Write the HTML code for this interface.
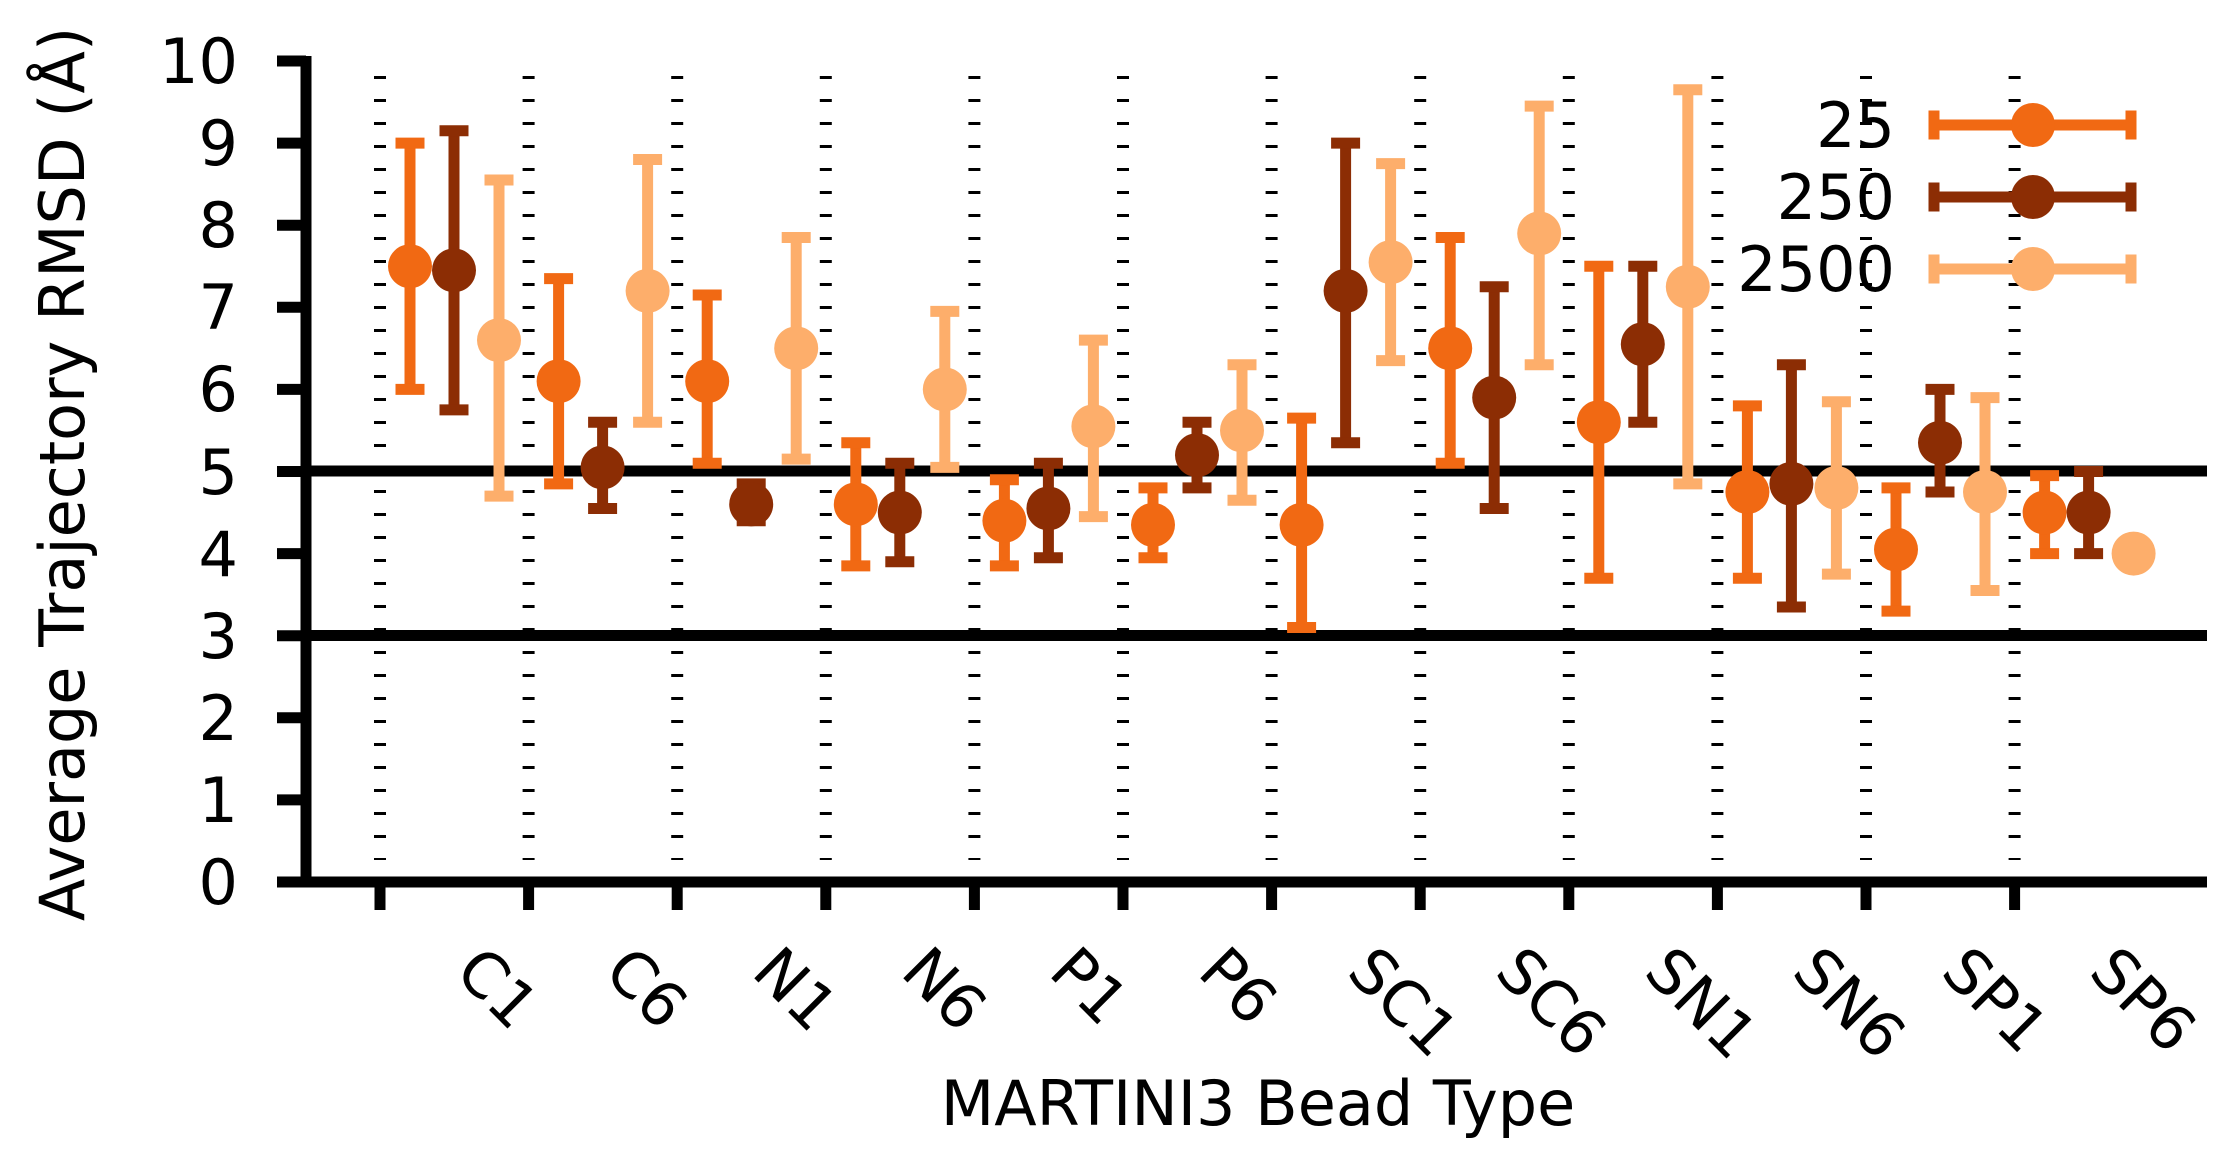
<!DOCTYPE html>
<html><head><meta charset="utf-8"><style>
html,body{margin:0;padding:0;background:#fff;}
svg{display:block;}
text{font-family:"DejaVu Sans","Liberation Sans",sans-serif;fill:#000;}
</style></head><body>
<svg id="s" width="2240" height="1167" viewBox="0 0 2240 1167" xmlns="http://www.w3.org/2000/svg">
<g id="grid"></g>
<g stroke="#000" stroke-width="11">
<line x1="306" y1="471" x2="2207" y2="471"/>
<line x1="306" y1="635.5" x2="2207" y2="635.5"/>
<line x1="306" y1="56" x2="306" y2="887"/>
<line x1="277" y1="882" x2="2207" y2="882"/>
</g>
<g id="ticks" stroke="#000" stroke-width="11"></g>
<g id="data"></g>
<g font-size="62" text-anchor="end">
<text x="238" y="904">0</text>
<text x="238" y="822">1</text>
<text x="238" y="740">2</text>
<text x="238" y="658">3</text>
<text x="238" y="576">4</text>
<text x="238" y="494">5</text>
<text x="238" y="411">6</text>
<text x="238" y="329">7</text>
<text x="238" y="247">8</text>
<text x="238" y="165">9</text>
<text x="238" y="83">10</text>
</g>
<g font-size="62">
<text transform="translate(453,974) rotate(45)">C1</text>
<text transform="translate(602,974) rotate(45)">C6</text>
<text transform="translate(750,974) rotate(45)">N1</text>
<text transform="translate(899,974) rotate(45)">N6</text>
<text transform="translate(1047,974) rotate(45)">P1</text>
<text transform="translate(1196,974) rotate(45)">P6</text>
<text transform="translate(1345,974) rotate(45)">SC1</text>
<text transform="translate(1493,974) rotate(45)">SC6</text>
<text transform="translate(1642,974) rotate(45)">SN1</text>
<text transform="translate(1790,974) rotate(45)">SN6</text>
<text transform="translate(1939,974) rotate(45)">SP1</text>
<text transform="translate(2087,974) rotate(45)">SP6</text>
</g>
<text x="1258" y="1125" font-size="62" text-anchor="middle">MARTINI3 Bead Type</text>
<text transform="translate(84,474) rotate(-90)" font-size="62" text-anchor="middle">Average Trajectory RMSD (Å)</text>
<g font-size="62" text-anchor="end">
<text x="1895" y="147">25</text>
<text x="1895" y="219">250</text>
<text x="1895" y="291">2500</text>
</g>
<g id="leg"></g>
</svg>
<script>
var NS="http://www.w3.org/2000/svg";
function el(p,t,a){var e=document.createElementNS(NS,t);for(var k in a)e.setAttribute(k,a[k]);p.appendChild(e);return e;}
var grid=document.getElementById('grid'),ticks=document.getElementById('ticks'),dg=document.getElementById('data'),lg=document.getElementById('leg');
for(var k=0;k<12;k++){var x=380+k*148.6;
el(grid,'line',{x1:x,y1:76,x2:x,y2:860,stroke:'#000','stroke-width':12,'stroke-dasharray':'3 20'});
el(ticks,'line',{x1:x,y1:882,x2:x,y2:910});}
for(var v=0;v<=10;v++){var y=882-82.1*v;el(ticks,'line',{x1:277,y1:y,x2:306,y2:y});}
var C=['#f16913','#8c2d04','#fdae6b'];
var D=[
[[7.5,6.0,9.0],[7.45,5.75,9.15],[6.6,4.7,8.55]],
[[6.1,4.85,7.35],[5.05,4.55,5.6],[7.2,5.6,8.8]],
[[6.1,5.1,7.15],[4.6,4.4,4.85],[6.5,5.15,7.85]],
[[4.6,3.85,5.35],[4.5,3.9,5.1],[6.0,5.05,6.95]],
[[4.4,3.85,4.9],[4.55,3.95,5.1],[5.55,4.45,6.6]],
[[4.35,3.95,4.8],[5.2,4.8,5.6],[5.5,4.65,6.3]],
[[4.35,3.1,5.65],[7.2,5.35,9.0],[7.55,6.35,8.75]],
[[6.5,5.1,7.85],[5.9,4.55,7.25],[7.9,6.3,9.45]],
[[5.6,3.7,7.5],[6.55,5.6,7.5],[7.25,4.85,9.65]],
[[4.75,3.7,5.8],[4.85,3.35,6.3],[4.8,3.75,5.85]],
[[4.05,3.3,4.8],[5.35,4.75,6.0],[4.75,3.55,5.9]],
[[4.5,4.0,4.95],[4.5,4.0,5.0],[4.0,3.95,4.05]]];
var off=[30,74,119];
function Y(v){return 882-82.1*v;}
for(var g=0;g<12;g++)for(var s=0;s<3;s++){var d=D[g][s],x=380+g*148.6+off[s],c=C[s];
el(dg,'line',{x1:x,y1:Y(d[1]),x2:x,y2:Y(d[2]),stroke:c,'stroke-width':11});
el(dg,'line',{x1:x-14.5,y1:Y(d[1]),x2:x+14.5,y2:Y(d[1]),stroke:c,'stroke-width':11});
el(dg,'line',{x1:x-14.5,y1:Y(d[2]),x2:x+14.5,y2:Y(d[2]),stroke:c,'stroke-width':11});
el(dg,'circle',{cx:x,cy:Y(d[0]),r:22,fill:c});}
var ly=[125,197,269];
for(var s=0;s<3;s++){var y=ly[s],c=C[s];
el(lg,'line',{x1:1934,y1:y,x2:2131,y2:y,stroke:c,'stroke-width':11});
el(lg,'line',{x1:1934,y1:y-14.5,x2:1934,y2:y+14.5,stroke:c,'stroke-width':11});
el(lg,'line',{x1:2131,y1:y-14.5,x2:2131,y2:y+14.5,stroke:c,'stroke-width':11});
el(lg,'circle',{cx:2033,cy:y,r:22,fill:c});}
</script>
</body></html>
